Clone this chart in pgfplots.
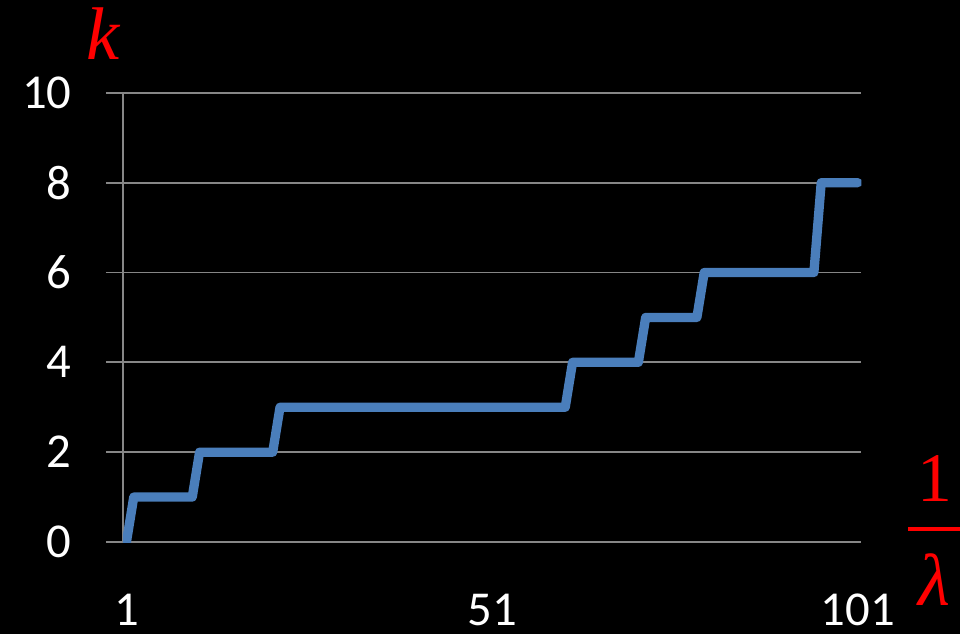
\documentclass[border=0pt]{standalone}
\usepackage{fontspec}
\setmainfont{Carlito}
\newfontfamily\timesf{Liberation Serif}
\usepackage{pgfplots}
\pgfplotsset{compat=1.18}
\definecolor{lineblue}{RGB}{74,126,187}
\definecolor{gridgray}{RGB}{134,134,134}
\begin{document}
\begin{tikzpicture}
\fill[black] (0,0) rectangle (962bp,635bp);
\begin{axis}[
  at={(123bp,92bp)}, anchor=south west,
  scale only axis, width=740bp, height=450bp,
  xmin=0.5, xmax=101.5, ymin=0, ymax=10,
  axis lines=left, axis line style={gridgray, line width=2bp, -},
  xtick={1,51,101}, ytick={0,2,...,10},
  ymajorgrids, grid style={gridgray, line width=2bp},
  tick align=outside,
  major tick length=17bp,
  xtick style={draw=none},
  ytick style={gridgray, line width=2bp},
  tick label style={white, font=\fontsize{49}{58}\selectfont, inner sep=0pt},
  yticklabel style={anchor=east, xshift=-34bp},
  xticklabel style={anchor=north, yshift=-35bp},
  /pgf/number format/assume math mode=true,
]
\addplot[lineblue, line width=9.3bp, line join=round, line cap=round] coordinates {
(1,0) (2,1) (10,1) (11,2) (21,2) (22,3) (61,3) (62,4) (71,4) (72,5) (79,5) (80,6) (95,6) (96,8) (101,8)
};
\end{axis}
\node[red, anchor=base west, inner sep=0pt, font=\timesf\itshape\fontsize{75}{80}\selectfont] at (86bp,575bp) {k};
\node[red, anchor=base, inner sep=0pt, font=\timesf\fontsize{70}{80}\selectfont] at (937bp,133bp) {1};
\draw[red, line width=3.5bp] (910bp,105bp) -- (962bp,105bp);
\node[red, anchor=base, inner sep=0pt, font=\timesf\itshape\fontsize{74}{80}\selectfont] at (936bp,28bp) {λ};
\end{tikzpicture}
\end{document}
